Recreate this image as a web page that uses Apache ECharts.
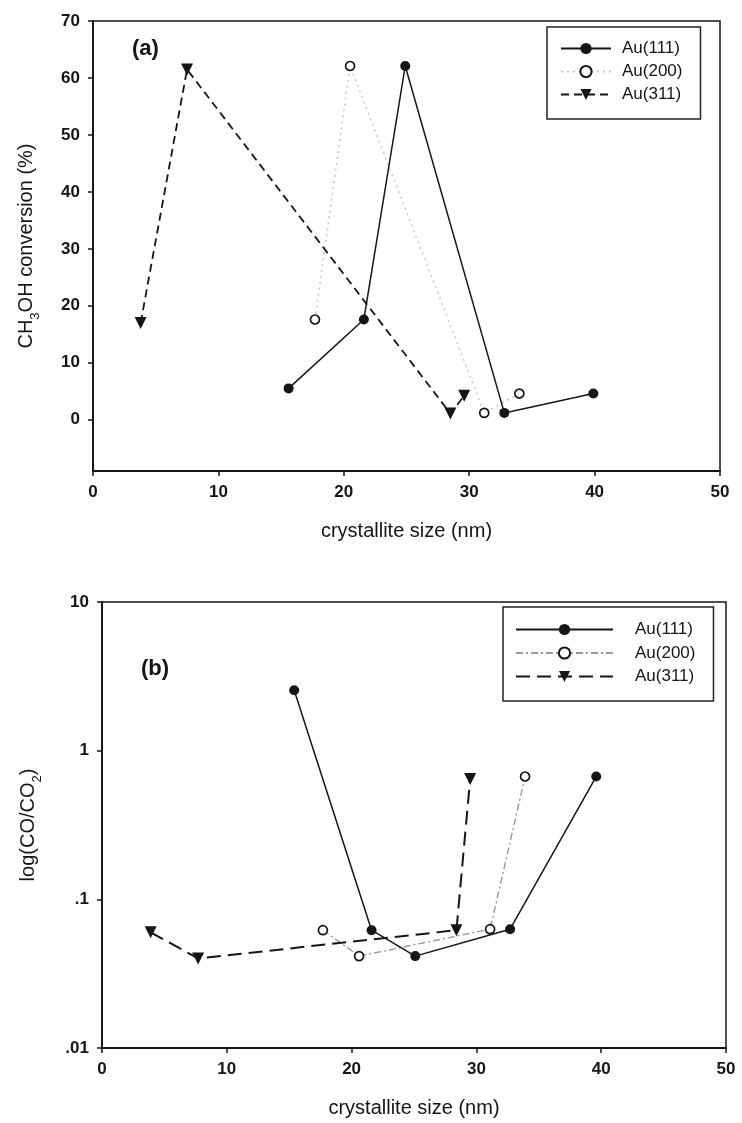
<!DOCTYPE html>
<html><head><meta charset="utf-8">
<script src="https://cdn.jsdelivr.net/npm/echarts@6/dist/echarts.min.js"></script>
<style>
html,body{margin:0;padding:0;background:#fff;}
#a{position:absolute;left:0;top:0;width:742px;height:560px;}
#b{position:absolute;left:0;top:560px;width:742px;height:563px;}
</style>
</head><body><div id="a"></div><div id="b"></div>
<script>
// ---- data ----
const seriesNames = ['Au(111)', 'Au(200)', 'Au(311)'];
// panel (a): CH3OH conversion (%) vs crystallite size (nm)
const sizeA111 = [15.6, 21.6, 24.9, 32.8, 39.9];
const convA111 = [5.5, 17.6, 62.1, 1.2, 4.6];
const sizeA200 = [17.7, 20.5, 31.2, 34.0];
const convA200 = [17.6, 62.1, 1.2, 4.6];
const sizeA311 = [3.8, 7.5, 28.5, 29.6];
const convA311 = [17.0, 61.5, 1.1, 4.2];
// panel (b): CO/CO2 ratio (log scale) vs crystallite size (nm)
const sizeB111 = [15.4, 21.6, 25.1, 32.7, 39.6];
const ratioB111 = [2.55, 0.062, 0.0415, 0.063, 0.67];
const sizeB200 = [17.7, 20.6, 31.1, 33.9];
const ratioB200 = [0.062, 0.0415, 0.063, 0.67];
const sizeB311 = [3.9, 7.7, 28.4, 29.5];
const ratioB311 = [0.060, 0.040, 0.062, 0.645];
// tick labels
const xTicks = [0, 10, 20, 30, 40, 50];
const yTicksA = [0, 10, 20, 30, 40, 50, 60, 70];
const yTickLabelsB = ['.01', '.1', '1', '10'];

const FONT = '"Liberation Sans", Arial, sans-serif';
const INK = '#151515';
const pairs = (xs, ys) => xs.map((x, i) => [x, ys[i]]);

function axisCommon() {
  return {
    axisLine: { onZero: false, lineStyle: { color: INK, width: 1.8 } },
    axisTick: { length: 5, lineStyle: { color: INK, width: 1.5 } },
    axisLabel: { color: INK, fontSize: 17, fontWeight: 'bold', fontFamily: FONT, margin: 13 },
    splitLine: { show: false },
    nameLocation: 'middle',
    nameTextStyle: { color: INK, fontSize: 20, fontFamily: FONT }
  };
}

function makeSeries(d111, d200, d311, styles) {
  return [
    { name: seriesNames[0], type: 'line', data: d111, symbol: 'circle', symbolSize: 10,
      itemStyle: { color: INK }, lineStyle: { color: INK, width: 1.5, type: 'solid' }, z: 3 },
    { name: seriesNames[1], type: 'line', data: d200, symbol: 'circle', symbolSize: 9,
      itemStyle: { color: '#fff', borderColor: INK, borderWidth: 1.7 },
      lineStyle: styles.l200, z: 2 },
    { name: seriesNames[2], type: 'line', data: d311, symbol: 'triangle', symbolSize: 12, symbolRotate: 180,
      itemStyle: { color: INK }, lineStyle: styles.l311, z: 3 }
  ];
}

function legend(o) {
  return Object.assign({
    orient: 'vertical', borderColor: '#222', borderWidth: 1.5, itemHeight: 14,
    data: seriesNames
  }, o);
}

// ---- panel (a) ----
const chartA = echarts.init(document.getElementById('a'), null, { renderer: 'canvas' });
const xa = axisCommon();
Object.assign(xa, { type: 'value', min: 0, max: 50, interval: 10, name: 'crystallite size (nm)', nameGap: 50 });
const ya = axisCommon();
Object.assign(ya, { type: 'value', min: -9, max: 70, name: 'CH{sub|3}OH conversion (%)', nameGap: 57, nameRotate: 90 });
ya.axisLabel = Object.assign({}, ya.axisLabel, { customValues: yTicksA });
ya.axisTick = Object.assign({}, ya.axisTick, { customValues: yTicksA });
ya.nameTextStyle = Object.assign({}, ya.nameTextStyle, {
  rich: { sub: { fontSize: 13, fontFamily: FONT, color: INK, verticalAlign: 'bottom', lineHeight: 12, padding: [0, 0, -6, 0] } }
});
chartA.setOption({
  animation: false,
  backgroundColor: '#fff',
  title: { text: '(a)', left: 127, top: 33, textStyle: { fontSize: 22, fontWeight: 'bold', color: INK, fontFamily: FONT } },
  grid: { left: 93, top: 21, width: 627, height: 450, show: true, borderColor: INK, borderWidth: 1.5, containLabel: false },
  xAxis: xa,
  yAxis: ya,
  legend: legend({ left: 547, top: 27, padding: [13, 18, 16, 13], itemWidth: 50, itemGap: 6,
    textStyle: { fontSize: 17, color: INK, fontFamily: FONT, lineHeight: 16, padding: [0, 0, 0, 6] } }),
  series: makeSeries(pairs(sizeA111, convA111), pairs(sizeA200, convA200), pairs(sizeA311, convA311), {
    l200: { color: '#c8c8c8', width: 1.6, type: [2, 4] },
    l311: { color: INK, width: 1.8, type: [8, 5] }
  })
});

// ---- panel (b) ----
const chartB = echarts.init(document.getElementById('b'), null, { renderer: 'canvas' });
const xb = axisCommon();
Object.assign(xb, { type: 'value', min: 0, max: 50, interval: 10, name: 'crystallite size (nm)', nameGap: 50 });
const yb = axisCommon();
Object.assign(yb, { type: 'log', logBase: 10, min: 0.01, max: 10, name: 'log(CO/CO{sub|2})', nameGap: 64, nameRotate: 90 });
yb.axisLabel = Object.assign({}, yb.axisLabel, {
  formatter: v => yTickLabelsB[Math.round(Math.log10(v)) + 2]
});
yb.nameTextStyle = Object.assign({}, yb.nameTextStyle, {
  rich: { sub: { fontSize: 13, fontFamily: FONT, color: INK, verticalAlign: 'bottom', lineHeight: 12, padding: [0, 0, -6, 0] } }
});
chartB.setOption({
  animation: false,
  backgroundColor: '#fff',
  title: { text: '(b)', left: 136, top: 93, textStyle: { fontSize: 22, fontWeight: 'bold', color: INK, fontFamily: FONT } },
  grid: { left: 102, top: 42, width: 624, height: 448, show: true, borderColor: INK, borderWidth: 1.5, containLabel: false },
  xAxis: xb,
  yAxis: yb,
  legend: legend({ left: 503, top: 47, padding: [14, 18, 16, 12], itemWidth: 97, itemGap: 6.5,
    textStyle: { fontSize: 17, color: INK, fontFamily: FONT, lineHeight: 16, padding: [0, 0, 0, 17] } }),
  series: makeSeries(pairs(sizeB111, ratioB111), pairs(sizeB200, ratioB200), pairs(sizeB311, ratioB311), {
    l200: { color: '#9a9a9a', width: 1.4, type: [7, 3, 2, 3] },
    l311: { color: INK, width: 2, type: [14, 7] }
  })
});
</script>
</body></html>
